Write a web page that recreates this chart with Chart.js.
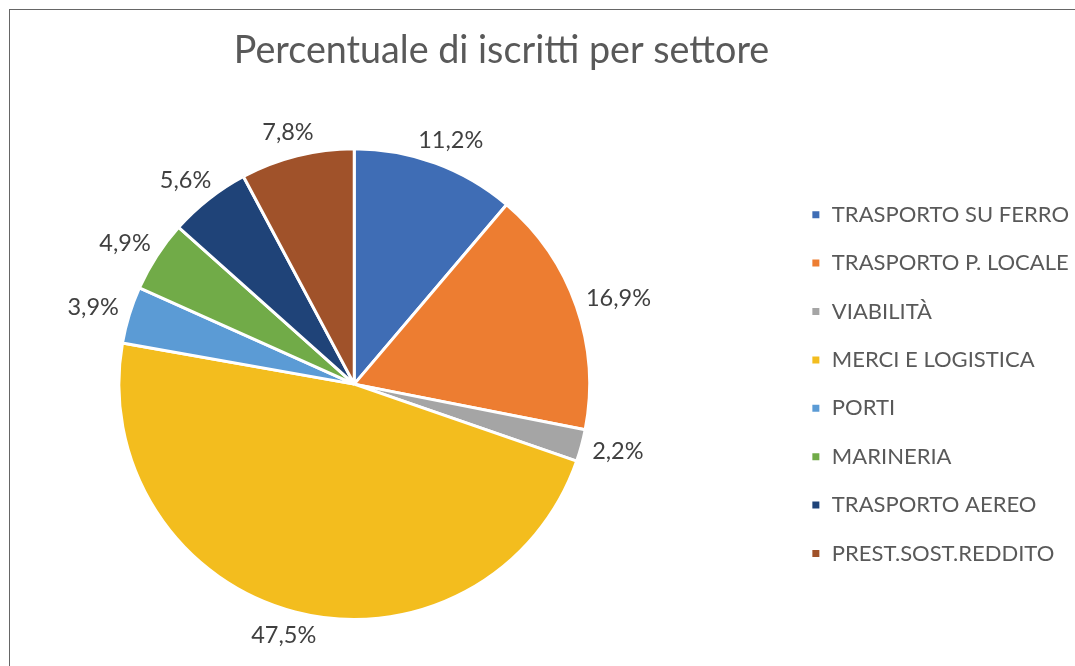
<!DOCTYPE html>
<html><head><meta charset="utf-8">
<script src="https://cdn.jsdelivr.net/npm/chart.js@4.4.1/dist/chart.umd.min.js"></script>
<style>
html,body{margin:0;padding:0;background:#fff;overflow:hidden;}
#wrap{position:relative;width:1075px;height:666px;background:#fff;overflow:hidden;}
#frame{position:absolute;left:9px;top:9px;width:2000px;height:2000px;border:1px solid #666666;pointer-events:none;}
canvas{position:absolute;left:-76px;top:0;}
</style></head><body>
<div id="wrap"><canvas id="c" width="1155" height="666"></canvas><div id="frame"></div></div>
<script>
const chartTitle = 'Percentuale di iscritti per settore';
const categories = ['TRASPORTO SU FERRO','TRASPORTO P. LOCALE','VIABILITÀ','MERCI E LOGISTICA','PORTI','MARINERIA','TRASPORTO AEREO','PREST.SOST.REDDITO'];
const shares = [11.2, 16.9, 2.2, 47.5, 3.9, 4.9, 5.6, 7.8];
const sliceColors = ['#3F6DB5','#ED7D31','#A5A5A5','#F3BD1E','#5B9BD5','#71AB48','#1F4378','#A0522A'];

const fmt = v => v.toFixed(1).replace('.', ',') + '%';

const outsideLabels = {
  id: 'outsideLabels',
  afterDatasetsDraw(chart) {
    const ctx = chart.ctx;
    const meta = chart.getDatasetMeta(0);
    const ds = chart.data.datasets[0];
    ctx.save();
    ctx.font = '23.5px Lato';
    ctx.fillStyle = '#404040';
    ctx.textAlign = 'center';
    ctx.textBaseline = 'middle';
    meta.data.forEach((arc, i) => {
      const p = arc.getProps(['x','y','startAngle','endAngle','outerRadius'], true);
      const mid = (p.startAngle + p.endAngle) / 2;
      const text = fmt(ds.data[i]);
      const w = ctx.measureText(text).width;
      const h = 24;
      const dx = Math.cos(mid), dy = Math.sin(mid);
      const r = p.outerRadius + 12;
      ctx.fillText(text, p.x + dx * r + dx * w / 2, p.y + dy * r + dy * h / 2);
    });
    ctx.restore();
  }
};

new Chart(document.getElementById('c'), {
  type: 'pie',
  data: {
    labels: categories,
    datasets: [{
      data: shares,
      backgroundColor: sliceColors,
      borderColor: '#ffffff',
      borderWidth: 3
    }]
  },
  options: {
    responsive: false,
    animation: false,
    layout: { padding: { left: 0, right: 0, top: 0, bottom: 45 } },
    plugins: {
      title: {
        display: true,
        text: chartTitle,
        color: '#595959',
        font: { family: 'Lato', size: 37.7, weight: 'normal' },
        padding: { top: 28, bottom: 74 }
      },
      legend: {
        position: 'right',
        align: 'center',
        fullSize: false,
        labels: {
          font: { family: 'Lato', size: 22 },
          color: '#595959',
          boxWidth: 10,
          boxHeight: 10,
          padding: 26.4
        }
      },
      tooltip: { enabled: false }
    }
  },
  plugins: [outsideLabels]
});
</script>
</body></html>
